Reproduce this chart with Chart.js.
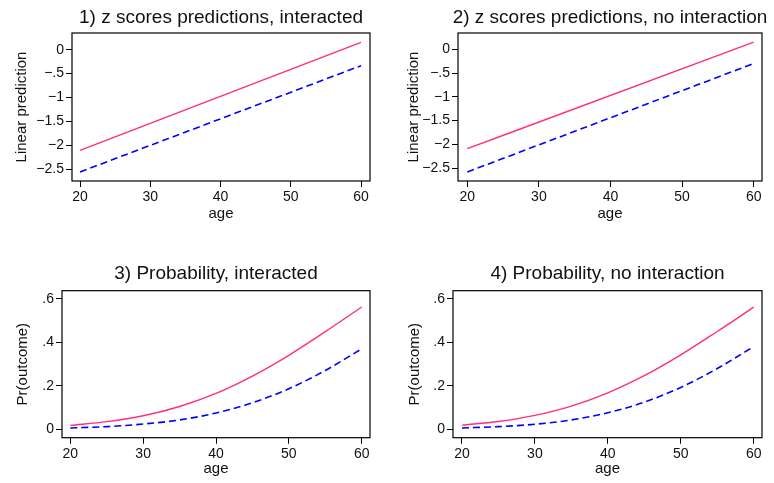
<!doctype html>
<html lang="en">
  <head>
    <meta charset="UTF-8" />
    <title>z scores and probability predictions</title>
    <script src="https://cdn.jsdelivr.net/npm/chart.js"></script>
    <style>
      body {
        margin: 0;
        background: #ffffff;
        width: 774px;
        height: 483px;
        position: relative;
        overflow: hidden;
      }
      canvas {
        position: absolute;
      }
    </style>
  </head>
  <body>
    <canvas id="p1" width="387" height="240" style="left:0;top:0"></canvas>
    <canvas id="p2" width="387" height="240" style="left:387px;top:0"></canvas>
    <canvas id="p3" width="387" height="233" style="left:0;top:250px"></canvas>
    <canvas id="p4" width="387" height="233" style="left:387px;top:250px"></canvas>

    <script>
      // data
      const linAges = [20, 60];
      const curveAges = [20, 25, 30, 35, 40, 45, 50, 55, 60];
      const xTicks = [20, 30, 40, 50, 60];
      const zTicks = [0, -0.5, -1, -1.5, -2, -2.5];
      const pTicks = [0, 0.2, 0.4, 0.6];

      // 1) z scores, interacted
      const zInterRed = [-2.11, 0.155];
      const zInterBlue = [-2.56, -0.335];
      // 2) z scores, no interaction
      const zNoInterRed = [-2.09, 0.15];
      const zNoInterBlue = [-2.58, -0.3];
      // 3) probability, interacted
      const pInterRed = [0.017, 0.034, 0.061, 0.104, 0.164, 0.244, 0.34, 0.449, 0.563];
      const pInterBlue = [0.005, 0.011, 0.023, 0.042, 0.074, 0.121, 0.186, 0.27, 0.37];
      // 4) probability, no interaction
      const pNoInterRed = [0.018, 0.035, 0.063, 0.106, 0.167, 0.246, 0.342, 0.45, 0.562];
      const pNoInterBlue = [0.005, 0.011, 0.022, 0.042, 0.075, 0.124, 0.192, 0.279, 0.38];

      const FONT = '"Liberation Sans", Arial, Helvetica, sans-serif';
      const RED = "#ff2d84";
      const BLUE = "#0000ff";

      const fmt = (v) => {
        const r = Math.round(v * 100) / 100;
        if (r === 0) return "0";
        let s = String(Math.abs(r));
        if (s.startsWith("0.")) s = s.slice(1);
        return (r < 0 ? "\u2212" : "") + s;
      };

      // frame round the plot region + panel title
      const panelDecor = {
        id: "panelDecor",
        afterDraw(chart, args, opts) {
          const { ctx, chartArea: a } = chart;
          ctx.save();
          ctx.strokeStyle = "#000";
          ctx.lineWidth = 1.2;
          ctx.strokeRect(a.left, a.top, a.right - a.left, a.bottom - a.top);
          ctx.fillStyle = "#111";
          ctx.font = "19px " + FONT;
          ctx.textAlign = "center";
          ctx.textBaseline = "alphabetic";
          ctx.fillText(opts.text, (a.left + a.right) / 2, opts.baseline);
          ctx.restore();
        },
      };

      function makePanel(id, cfg) {
        const canvas = document.getElementById(id);
        const W = canvas.width;
        const H = canvas.height;
        const f = cfg.frame;
        const pts = (xs, ys) => ys.map((y, i) => ({ x: xs[i], y: y }));
        new Chart(canvas, {
          type: "line",
          data: {
            datasets: [
              {
                data: pts(cfg.ages, cfg.red),
                borderColor: RED,
                borderWidth: 1.4,
                pointRadius: 0,
                cubicInterpolationMode: "monotone",
              },
              {
                data: pts(cfg.ages, cfg.blue),
                borderColor: BLUE,
                borderWidth: 1.6,
                borderDash: [7, 4],
                pointRadius: 0,
                cubicInterpolationMode: "monotone",
              },
            ],
          },
          plugins: [panelDecor],
          options: {
            responsive: false,
            animation: false,
            events: [],
            layout: { padding: { left: 0, top: f.t, right: W - f.r, bottom: 0 } },
            plugins: {
              legend: { display: false },
              tooltip: { enabled: false },
              panelDecor: { text: cfg.title, baseline: cfg.titleBase },
            },
            scales: {
              x: {
                type: "linear",
                min: cfg.xmin,
                max: cfg.xmax,
                afterBuildTicks: (s) => {
                  s.ticks = xTicks.map((v) => ({ value: v }));
                },
                afterFit: (s) => {
                  s.height = H - f.b;
                },
                grid: { drawOnChartArea: false, tickLength: 6, color: "#000" },
                border: { display: false },
                ticks: { color: "#111", padding: 2, font: { family: FONT, size: 14 } },
                title: {
                  display: true,
                  text: "age",
                  color: "#111",
                  font: { family: FONT, size: 15 },
                  padding: { top: 0, bottom: H - cfg.xTitleMid - 9 },
                },
              },
              y: {
                min: cfg.ymin,
                max: cfg.ymax,
                afterBuildTicks: (s) => {
                  s.ticks = cfg.yTicks.map((v) => ({ value: v }));
                },
                afterFit: (s) => {
                  s.width = f.l;
                },
                grid: { drawOnChartArea: false, tickLength: 6, color: "#000" },
                border: { display: false },
                ticks: {
                  color: "#111",
                  padding: 2,
                  font: { family: FONT, size: 14 },
                  callback: (v) => fmt(v),
                },
                title: {
                  display: true,
                  text: cfg.ytitle,
                  color: "#111",
                  font: { family: FONT, size: 15 },
                  padding: { top: cfg.yTitleMid - 9, bottom: 0 },
                },
              },
            },
          },
        });
      }

      makePanel("p1", {
        title: "1) z scores predictions, interacted",
        titleBase: 22.7,
        ytitle: "Linear prediction",
        frame: { l: 72, r: 370, t: 33, b: 181 },
        xmin: 18.86, xmax: 61.28, ymin: -2.75, ymax: 0.35,
        yTicks: zTicks, ages: linAges, red: zInterRed, blue: zInterBlue,
        xTitleMid: 213.7, yTitleMid: 22,
      });
      makePanel("p2", {
        title: "2) z scores predictions, no interaction",
        titleBase: 22.7,
        ytitle: "Linear prediction",
        frame: { l: 71, r: 375, t: 33, b: 181 },
        xmin: 18.7, xmax: 61.16, ymin: -2.77, ymax: 0.342,
        yTicks: zTicks, ages: linAges, red: zNoInterRed, blue: zNoInterBlue,
        xTitleMid: 213.7, yTitleMid: 26.5,
      });
      makePanel("p3", {
        title: "3) Probability, interacted",
        titleBase: 29.3,
        ytitle: "Pr(outcome)",
        frame: { l: 62, r: 370, t: 40.7, b: 187.7 },
        xmin: 18.86, xmax: 61.14, ymin: -0.04, ymax: 0.638,
        yTicks: pTicks, ages: curveAges, red: pInterRed, blue: pInterBlue,
        xTitleMid: 218.5, yTitleMid: 22.5,
      });
      makePanel("p4", {
        title: "4) Probability, no interaction",
        titleBase: 29.3,
        ytitle: "Pr(outcome)",
        frame: { l: 66, r: 375, t: 40.7, b: 187.7 },
        xmin: 18.77, xmax: 61.14, ymin: -0.04, ymax: 0.638,
        yTicks: pTicks, ages: curveAges, red: pNoInterRed, blue: pNoInterBlue,
        xTitleMid: 218.5, yTitleMid: 27.5,
      });
    </script>
  </body>
</html>
